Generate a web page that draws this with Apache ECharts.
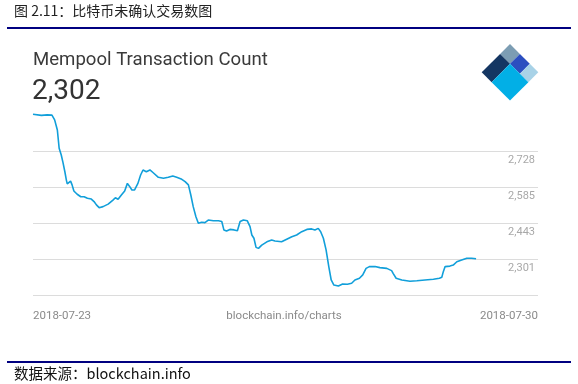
<!DOCTYPE html>
<html>
<head>
<meta charset="utf-8">
<script src="https://cdn.jsdelivr.net/npm/echarts@6/dist/echarts.min.js"></script>
<style>
html,body{margin:0;padding:0;background:#fff;}
#chart{width:578px;height:384px;}
</style>
</head>
<body>
<div id="chart"></div>
<script>
// ---- data ----
const hours = [0,2.8,4.7,6.3,7.2,8.1,8.7,9.4,10.0,10.6,11.1,11.4,11.9,12.5,13.0,13.6,14.7,15.9,17.0,18.1,19.4,20.3,21.1,22.0,23.3,25.0,26.6,27.4,28.3,29.4,30.5,31.4,32.2,32.9,33.8,34.9,35.8,36.6,37.7,38.9,40.0,41.7,43.4,45.0,46.5,47.8,49.5,50.6,51.1,51.7,52.5,53.3,54.2,55.0,56.1,57.2,58.3,60.0,61.7,62.8,63.5,64.4,65.5,66.9,68.0,68.9,70.0,71.3,72.2,72.8,73.5,74.2,75.0,76.1,77.8,79.4,80.5,82.7,84.4,86.1,87.7,89.4,91.1,92.7,93.8,94.9,95.7,96.6,97.5,98.4,99.2,100.1,101.6,103.0,104.6,106.0,107.1,108.6,109.7,110.8,111.9,113.8,115.4,117.7,119.3,119.8,120.8,122.7,125.4,127.7,130.4,133.2,135.2,136.0,136.5,137.1,138.7,139.8,141.0,142.6,144.3,145.9,147.4];
const counts = [2873,2869,2871,2870,2851,2811,2739,2712,2681,2646,2613,2598,2604,2609,2594,2570,2557,2547,2547,2541,2538,2528,2515,2504,2508,2518,2534,2543,2537,2554,2570,2600,2587,2574,2574,2600,2633,2653,2646,2653,2642,2624,2620,2624,2629,2624,2616,2607,2611,2594,2554,2508,2468,2442,2446,2445,2455,2452,2452,2449,2416,2412,2418,2416,2413,2449,2455,2452,2429,2396,2383,2347,2343,2356,2369,2376,2372,2369,2379,2389,2396,2409,2418,2420,2416,2422,2409,2383,2337,2271,2218,2198,2194,2202,2201,2205,2218,2225,2238,2264,2271,2271,2267,2264,2255,2244,2225,2218,2213,2215,2218,2221,2225,2229,2251,2271,2273,2277,2290,2297,2304,2304,2302];
const yTickValues = [2301, 2443, 2585, 2728];
const xTickLabels = ['2018-07-23', '2018-07-30'];
const spanHours = 168;
const figureTitle = '图 2.11：比特币未确认交易数图';
const chartTitle = 'Mempool Transaction Count';
const currentValue = '2,302';
const sourceCredit = 'blockchain.info/charts';
const footerText = '数据来源：blockchain.info';

// ---- chart ----
const step = (yTickValues[yTickValues.length - 1] - yTickValues[0]) / (yTickValues.length - 1);
const yMin = yTickValues[0] - step;
const yMax = yTickValues[yTickValues.length - 1] + step;
const seriesData = hours.map((h, i) => [h, counts[i]]);

// logo geometry (rotated square pieces)
const T = [510, 44];
const r = Math.SQRT1_2;
function P(u, v) { return [T[0] + (u - v) * r, T[1] + (u + v) * r]; }
function piece(u0, u1, v0, v1, color) {
  return { type: 'polygon', shape: { points: [P(u0, v0), P(u1, v0), P(u1, v1), P(u0, v1)] }, style: { fill: color } };
}

const chart = echarts.init(document.getElementById('chart'), null, { renderer: 'canvas' });
chart.setOption({
  backgroundColor: '#ffffff',
  animation: false,
  grid: { left: 33, right: 40, top: 115, bottom: 89 },
  xAxis: {
    type: 'value', min: 0, max: spanHours, interval: spanHours,
    axisLine: { show: false }, axisTick: { show: false }, splitLine: { show: false },
    axisLabel: {
      margin: 15, color: '#8a8a8a', fontSize: 11.5, fontFamily: 'Roboto',
      alignMinLabel: 'left', alignMaxLabel: 'right',
      formatter: v => (v <= 0 ? xTickLabels[0] : xTickLabels[1])
    }
  },
  yAxis: {
    type: 'value', position: 'right', min: yMin, max: yMax, interval: step,
    axisLine: { show: false }, axisTick: { show: false },
    splitLine: { show: true, showMaxLine: false, lineStyle: { color: '#dcdcdc', width: 1 } },
    axisLabel: {
      inside: true, margin: 3, verticalAlign: 'top', padding: [4, 0, 0, 0],
      color: '#a8a8a8', fontSize: 11, fontFamily: 'Roboto',
      showMinLabel: false, showMaxLabel: false,
      formatter: v => {
        const t = yTickValues.find(x => Math.abs(x - v) < 1);
        return t === undefined ? '' : t.toLocaleString('en-US');
      }
    }
  },
  series: [{
    type: 'line', data: seriesData, showSymbol: false, clip: false,
    lineStyle: { color: '#119fda', width: 1.6 }
  }],
  graphic: [
    { type: 'text', left: 14, top: 4, style: { text: figureTitle, font: '14px "Noto Sans CJK SC"', fill: '#222' } },
    { type: 'rect', shape: { x: 7, y: 27, width: 564, height: 2 }, style: { fill: '#000080' } },
    { type: 'text', x: 33, y: 60, style: { text: chartTitle, font: '18.6px Roboto', fill: '#3a3a3a', textVerticalAlign: 'middle' } },
    { type: 'text', x: 32, y: 92, style: { text: currentValue, font: '28px Roboto', fill: '#333', textVerticalAlign: 'middle' } },
    piece(0, 14, 0, 14, '#7c9db3'),
    piece(14, 28, 0, 14, '#2c4fc0'),
    piece(28, 40, 0, 14, '#a8d2e7'),
    piece(0, 14, 14, 40, '#143662'),
    piece(14, 40, 14, 40, '#02afe6'),
    { type: 'text', x: 284, y: 316, style: { text: sourceCredit, font: '11.5px Roboto', fill: '#8a8a8a', textAlign: 'center', textVerticalAlign: 'middle' } },
    { type: 'rect', shape: { x: 7, y: 361, width: 564, height: 2 }, style: { fill: '#000080' } },
    { type: 'text', left: 14, top: 366, style: { text: footerText, font: '14.5px "Noto Sans CJK SC"', fill: '#111' } }
  ]
});
</script>
</body>
</html>
